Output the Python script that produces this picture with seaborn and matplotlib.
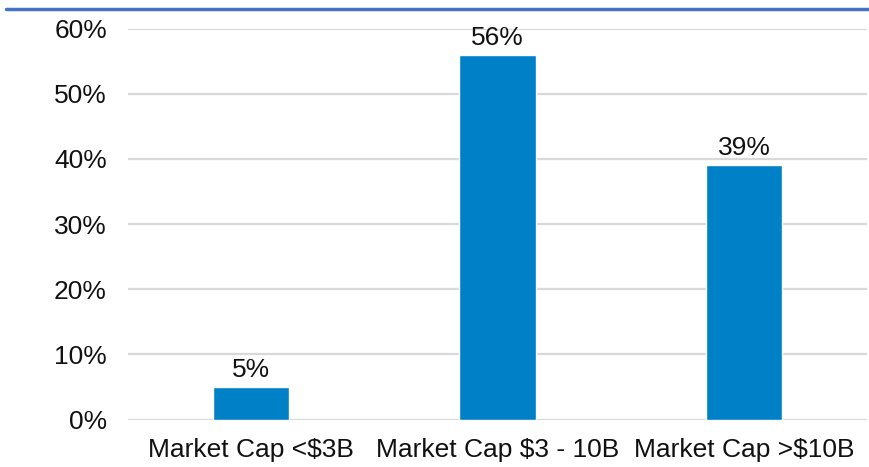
import matplotlib
matplotlib.use("Agg")
import matplotlib.pyplot as plt
import seaborn as sns
import pandas as pd
from matplotlib.lines import Line2D

categories = ["Market Cap <$3B", "Market Cap $3 - 10B", "Market Cap >$10B"]
values = [5, 56, 39]
value_labels = ["5%", "56%", "39%"]
yticks = [0, 10, 20, 30, 40, 50, 60]
ytick_labels = ["0%", "10%", "20%", "30%", "40%", "50%", "60%"]

sns.set_theme(style="white")
plt.rcParams["font.family"] = ["Liberation Sans", "DejaVu Sans"]

df = pd.DataFrame({"cat": categories, "val": values})

W, H = 869, 467
fig = plt.figure(figsize=(W / 100, H / 100), dpi=100)
left, right, bottom, top = 127.75, 867.25, 419.5, 28.5
ax = fig.add_axes([left / W, 1 - bottom / H, (right - left) / W, (bottom - top) / H])

sns.barplot(data=df, x="cat", y="val", color="#0080C6", saturation=1,
            width=0.312, ax=ax, zorder=3)

fs = 19
ax.set_xlim(-0.5, 2.5)
ax.set_ylim(0, 60)
ax.set_yticks(yticks)
ax.set_yticklabels(ytick_labels, fontsize=fs, color="#111111")
ax.set_xticks(range(len(categories)))
ax.set_xticklabels(categories, fontsize=fs, color="#111111")
ax.set_xlabel("")
ax.set_ylabel("")
ax.tick_params(axis="y", length=0, pad=15)
ax.tick_params(axis="x", length=0, pad=13)
ax.yaxis.grid(True, color="#d9d9d9", linewidth=1.6, zorder=0)
ax.xaxis.grid(False)
for s in ["top", "right", "left", "bottom"]:
    ax.spines[s].set_visible(False)

for p, lab in zip(ax.patches, value_labels):
    ax.annotate(lab, (p.get_x() + p.get_width() / 2, p.get_height()),
                xytext=(0, 3.5), textcoords="offset points",
                ha="center", va="bottom", fontsize=fs, color="#111111")

fig.add_artist(Line2D([6 / W, 1.0], [1 - 8.5 / H, 1 - 8.5 / H],
                      transform=fig.transFigure, color="#4472C4", linewidth=2.5))

fig.savefig("out.png", dpi=100, facecolor="white")
